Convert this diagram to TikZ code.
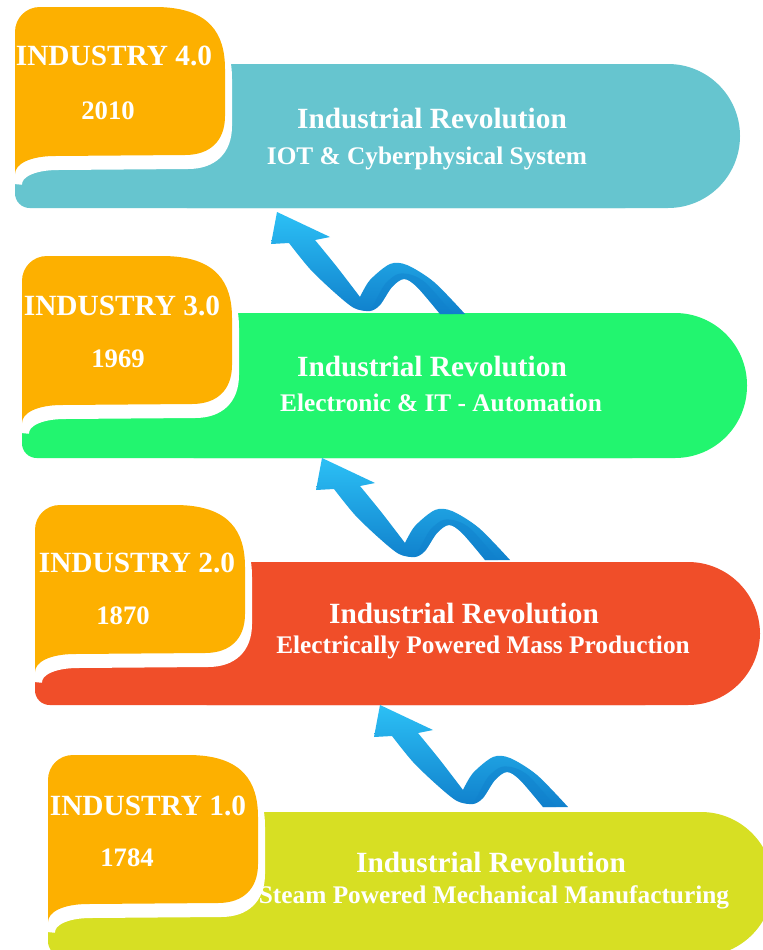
\documentclass[tikz,border=0pt]{standalone}
\usepackage{fontspec}
\setmainfont{Liberation Serif}

\definecolor{tabfill}{HTML}{FDB000}
\definecolor{bandcyan}{HTML}{66C5CF}
\definecolor{bandgreen}{HTML}{22F56F}
\definecolor{bandred}{HTML}{F04E29}
\definecolor{bandlime}{HTML}{D7DF23}
\definecolor{arrowlight}{HTML}{2CC0F5}
\definecolor{arrowdark}{HTML}{1080CC}

\tikzset{
  tabpath/.style={insert path={(0,-32) .. controls (0,-46) and (11,-57) .. (25,-57) -- (140,-57)
    .. controls (195,-57) and (210,-30) .. (210,5) -- (210,52)
    .. controls (210,77) and (195,91) .. (170,91) -- (40,92)
    .. controls (15,92) and (0,100) .. (0,110) -- cycle}},
  arrowpath/.style={insert path={(0,0) -- (53,25)
    -- plot[smooth] coordinates {(38,28) (60,55) (83,85)}
    -- plot[smooth] coordinates {(83,85) (93,68) (113,52) (130,53) (157,70) (188,102)}
    -- (163,102)
    -- plot[smooth] coordinates {(163,102) (140,75) (127,67) (115,75) (103,93) (93,99) (77,96) (57,80) (33,57) (12,31)}
    -- (-6,32) -- cycle}},
  foldpath/.style={insert path={(93,99)
    -- plot[smooth] coordinates {(93,99) (103,93) (115,75) (127,67) (140,75) (163,102)}
    -- (176,102)
    -- plot[smooth] coordinates {(176,102) (150,72) (135,63) (121,62) (108,72) (98,90)}
    -- cycle}},
  tabshadow/.style={white, draw=white, line width=6pt},
  tablabel/.style={text=white, font=\bfseries\fontsize{22}{24}\selectfont, text height=15pt, text depth=0pt},
  yeartext/.style={text=white, font=\bfseries\fontsize{20}{22}\selectfont, text height=13.6pt, text depth=0pt},
  bandtitle/.style={text=white, font=\bfseries\fontsize{22}{24}\selectfont, text height=15pt, text depth=0pt},
  bandsub/.style={text=white, font=\bfseries\fontsize{19}{21}\selectfont, text height=13pt, text depth=0pt},
  ribbon/.style={top color=arrowlight, bottom color=arrowdark},
  ribbonfold/.style={fill=arrowdark, fill opacity=0.45}
}

\begin{document}
\begin{tikzpicture}[x=0.75pt,y=-0.75pt]
\useasboundingbox (0,0) rectangle (763,950);
\clip (0,0) rectangle (763,950);
\fill[white] (0,0) rectangle (763,950);

% Industry 4.0
\begin{scope}[shift={(15,64)}]
\fill[bandcyan, rounded corners=11pt] (0,0) rectangle (625,144);
\fill[bandcyan, rounded corners=54pt] (100,0) rectangle (725,144);
\fill[tabshadow, shift={(3,10)}, tabpath];
\fill[tabfill, tabpath];
\end{scope}
\node[tablabel] (lab4) at (114,55) {INDUSTRY 4.0};
\node[yeartext] (yr4) at (108,110) {2010};
\node[bandtitle] (tit4) at (432,118) {Industrial Revolution};
\node[bandsub] (sub4) at (427,156) {IOT \& Cyberphysical System};

% Industry 3.0
\begin{scope}[shift={(22,313)}]
\fill[bandgreen, rounded corners=11pt] (0,0) rectangle (625,145);
\fill[bandgreen, rounded corners=54pt] (100,0) rectangle (725,145);
\fill[tabshadow, shift={(3,10)}, tabpath];
\fill[tabfill, tabpath];
\end{scope}
\node[tablabel] (lab3) at (122,305) {INDUSTRY 3.0};
\node[yeartext] (yr3) at (118,358) {1969};
\node[bandtitle] (tit3) at (432,366) {Industrial Revolution};
\node[bandsub] (sub3) at (441,403) {Electronic \& IT - Automation};

% Industry 2.0
\begin{scope}[shift={(35,562)}]
\fill[bandred, rounded corners=11pt] (0,0) rectangle (625,143);
\fill[bandred, rounded corners=54pt] (100,0) rectangle (725,143);
\fill[tabshadow, shift={(3,10)}, tabpath];
\fill[tabfill, tabpath];
\end{scope}
\node[tablabel] (lab2) at (137,562) {INDUSTRY 2.0};
\node[yeartext] (yr2) at (123,615) {1870};
\node[bandtitle] (tit2) at (464,613) {Industrial Revolution};
\node[bandsub] (sub2) at (483,645) {Electrically Powered Mass Production};

% Industry 1.0
\begin{scope}[shift={(48,812)}]
\fill[bandlime, rounded corners=11pt] (0,0) rectangle (625,144);
\fill[bandlime, rounded corners=54pt] (100,0) rectangle (725,144);
\fill[tabshadow, shift={(3,10)}, tabpath];
\fill[tabfill, tabpath];
\end{scope}
\node[tablabel] (lab1) at (148,805) {INDUSTRY 1.0};
\node[yeartext] (yr1) at (127,857) {1784};
\node[bandtitle] (tit1) at (491,862) {Industrial Revolution};
\node[bandsub] (sub1) at (494,895) {Steam Powered Mechanical Manufacturing};

% twisted arrows between the stages
\shade[ribbon, shift={(277,212)}, arrowpath];
\fill[ribbonfold, shift={(277,212)}, foldpath];
\shade[ribbon, shift={(322,458)}, arrowpath];
\fill[ribbonfold, shift={(322,458)}, foldpath];
\shade[ribbon, shift={(380,705)}, arrowpath];
\fill[ribbonfold, shift={(380,705)}, foldpath];
\end{tikzpicture}
\end{document}
